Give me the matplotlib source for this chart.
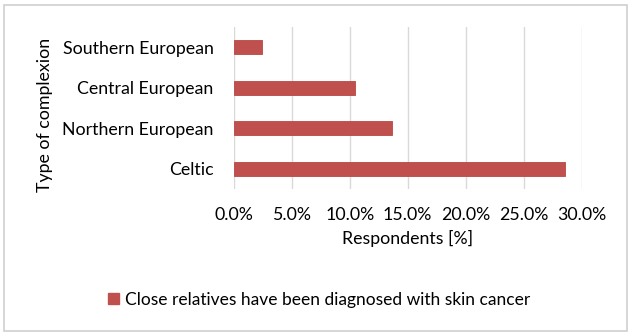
import matplotlib
matplotlib.use("Agg")
import matplotlib.pyplot as plt
from matplotlib.patches import Rectangle, Patch
from matplotlib.ticker import FuncFormatter

categories = ["Celtic", "Northern European", "Central European", "Southern European"]
values = [28.56, 13.65, 10.43, 2.47]
series_name = "Close relatives have been diagnosed with skin cancer"
xticks = [0, 5, 10, 15, 20, 25, 30]

plt.rcParams['font.family'] = ['Lato', 'DejaVu Sans']
FS = 12.8

fig = plt.figure(figsize=(6.33, 3.36), dpi=100)
ax = fig.add_axes([233.7/633, 1-189/336, (581.7-233.7)/633, (189-27)/336])

color = "#C0504D"
ax.barh(range(len(categories)), values, height=0.35, color=color, edgecolor="#B84744", linewidth=0.6, zorder=3)
ax.set_ylim(-0.5, len(categories)-0.5)
ax.set_xlim(0, 30)
ax.set_xticks(xticks)
ax.xaxis.set_major_formatter(FuncFormatter(lambda v, p: f"{v:.1f}%"))
ax.set_yticks(range(len(categories)))
ax.set_yticklabels(categories)
ax.grid(axis='x', color="#D9D9D9", linewidth=1.0, zorder=0)
for s in ax.spines.values():
    s.set_visible(False)
ax.tick_params(axis='both', length=0, labelsize=FS, colors="#000000")
ax.tick_params(axis='x', pad=13)
ax.tick_params(axis='y', pad=14.4)
ax.set_xlabel("Respondents [%]", fontsize=FS, labelpad=5)
fig.text(45/633, 1-115/336, "Type of complexion", rotation=90, ha='center', va='center', fontsize=FS)

leg = fig.legend(handles=[Patch(facecolor=color, edgecolor=color)], labels=[series_name],
                 loc='center', bbox_to_anchor=(319/633, 1-300/336), frameon=False, fontsize=12.5,
                 handlelength=0.6, handleheight=0.6, handletextpad=0.35)

border = Rectangle((4/633, 1-331/336), (627-4)/633, (331-5)/336,
                   transform=fig.transFigure, facecolor='none', edgecolor="#D0D0D0", linewidth=1.2)
fig.patches.append(border)

fig.savefig("out.png", dpi=100)
